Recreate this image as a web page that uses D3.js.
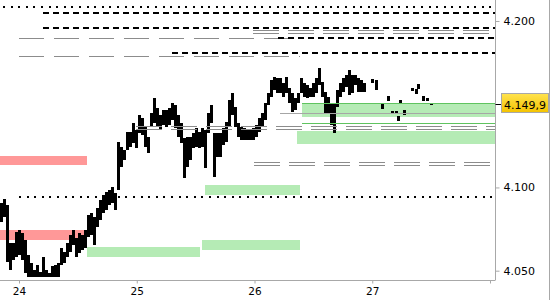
<!DOCTYPE html>
<html>
<head>
<meta charset="utf-8">
<script src="https://cdn.jsdelivr.net/npm/d3@7"></script>
<style>
  html, body { margin: 0; padding: 0; background: #fff; }
  svg { display: block; }
  text { font-family: "DejaVu Sans", Verdana, sans-serif; }
</style>
</head>
<body>
<div id="chart"></div>
<script>
// bars of the dense session: regular interval starting at barStart (days)
const barStart = 23.8514;
const barStep = 0.02548;
const barHigh = [4090.8, 4093.2, 4089.6, 4066.8, 4066.8, 4073.4, 4074.6, 4072.8, 4068.6, 4059.6,
  4054.8, 4050.6, 4053.6, 4049.4, 4058.4, 4050.6, 4048.8, 4053.0, 4053.6, 4054.8,
  4063.8, 4061.4, 4066.8, 4071.6, 4074.6, 4069.8, 4072.8, 4071.6, 4074.6, 4083.6,
  4084.8, 4082.4, 4087.8, 4092.6, 4095.6, 4097.4, 4098.6, 4100.4, 4096.8, 4127.4,
  4124.4, 4122.6, 4133.4, 4133.4, 4138.8, 4134.6, 4143.6, 4141.8, 4136.4, 4130.4,
  4144.8, 4153.8, 4147.8, 4143.6, 4146.6, 4146.6, 4147.8, 4150.8, 4149.6, 4143.6,
  4138.8, 4129.8, 4130.4, 4130.4, 4132.8, 4135.8, 4133.4, 4135.8, 4134.6, 4144.8,
  4149.6, 4132.8, 4132.8, 4132.8, 4135.8, 4139.4, 4152.6, 4156.8, 4148.4, 4138.8,
  4136.4, 4135.8, 4134.6, 4134.6, 4135.8, 4137.6, 4141.8, 4144.8, 4150.8, 4156.8,
  4164.6, 4166.4, 4165.8, 4165.8, 4162.8, 4166.4, 4159.8, 4156.8, 4153.8, 4156.8,
  4165.8, 4162.8, 4161.6, 4159.8, 4162.8, 4165.8, 4171.8, 4163.4, 4157.4, 4154.4,
  4150.8, 4150.8, 4158.6, 4162.8, 4165.8, 4167.6, 4170.6, 4167.6, 4167.6, 4165.8,
  4164.6, 4162.8];
const barLow = [4079.4, 4082.4, 4055.4, 4050.6, 4056.6, 4058.4, 4059.6, 4056.6, 4048.8, 4046.0,
  4046.0, 4046.0, 4046.0, 4046.0, 4046.0, 4046.0, 4046.0, 4046.0, 4046.0, 4046.4,
  4053.6, 4054.8, 4058.4, 4061.4, 4065.6, 4058.4, 4060.8, 4062.6, 4063.8, 4070.4,
  4071.6, 4065.6, 4076.4, 4080.6, 4084.8, 4086.6, 4089.6, 4090.8, 4086.6, 4098.6,
  4112.4, 4116.6, 4122.6, 4124.4, 4126.8, 4123.8, 4132.8, 4131.6, 4124.4, 4120.8,
  4136.4, 4138.8, 4136.4, 4134.6, 4137.6, 4136.4, 4137.6, 4140.6, 4135.8, 4130.4,
  4126.8, 4105.8, 4112.4, 4116.6, 4123.8, 4124.4, 4123.8, 4124.4, 4111.8, 4132.8,
  4138.8, 4106.4, 4118.4, 4118.4, 4125.6, 4127.4, 4136.4, 4143.6, 4136.4, 4130.4,
  4128.6, 4128.6, 4128.6, 4128.6, 4128.6, 4130.4, 4133.4, 4136.4, 4140.6, 4149.6,
  4154.4, 4158.6, 4156.8, 4156.8, 4154.4, 4156.8, 4150.8, 4145.4, 4146.6, 4150.8,
  4156.8, 4154.4, 4153.8, 4154.4, 4154.4, 4156.8, 4161.6, 4154.4, 4144.8, 4144.8,
  4137.6, 4132.8, 4148.4, 4154.4, 4157.4, 4160.4, 4155.6, 4156.8, 4161.6, 4157.4,
  4157.4, 4157.4];

// sparse late trades
const lateTime = [26.998, 27.032, 27.091, 27.134, 27.176, 27.202, 27.227, 27.244, 27.278, 27.346, 27.372, 27.397, 27.439, 27.473, 27.507];
const lateHigh = [4165.2, 4164.6, 4150.2, 4155.0, 4146.0, 4146.0, 4143.0, 4152.6, 4146.6, 4159.8, 4159.2, 4162.2, 4155.0, 4153.8, 4150.8];
const lateLow  = [4162.8, 4158.6, 4147.2, 4152.0, 4144.8, 4144.8, 4140.0, 4150.8, 4143.6, 4158.0, 4156.2, 4159.2, 4152.0, 4152.0, 4150.2];

// zones (to = null means up to the right edge)
const greenTop    = [4150.6, 4134.2, 4101.6, 4068.6, 4064.4];
const greenBottom = [4142.6, 4126.2, 4095.2, 4062.6, 4058.4];
const greenFrom   = [26.403, 26.361, 25.580, 25.554, 24.577];
const greenTo     = [null, null, 26.386, 26.386, 25.537];
const greenLines     = [4150.6, 4138.6];
const greenLinesFrom = [26.403, 26.403];
const redTop    = [4119.0, 4074.6];
const redBottom = [4113.6, 4068.6];
const redFrom   = [23.839, 23.839];
const redTo     = [24.577, 24.577];

// levels
const dottedLevels = [4208.4, 4094.0];
const dottedFrom   = [23.864, 24.000];
const blackDashLevels = [4204.6, 4195.6, 4189.6, 4180.6];
const blackDashFrom   = [24.204, 24.204, 26.200, 25.299];
const greyDashLevels = [4189.6, 4179.0];
const greyDashFrom   = [24.000, 24.000];
const greyDashTo     = [26.302, 26.386];
const greyDoubleLevels = [4193.6, 4135.8, 4114.4];
const greyDoubleFrom   = [25.987, 24.994, 25.996];
const greySolidLevels = [4144.6];
const greySolidFrom   = [26.217];

// 4.150 sits under the last-price box, so it is not shown
const yTicks = [4050, 4100, 4200];
const xTicks = [24, 25, 26, 27, 28];
const xLabels = ['24', '25', '26', '27', ''];
const lastPrice = 4149.9;

const width = 550, height = 300;
const plotRight = 495.5, plotBottom = 280;

const de = d3.formatLocale({ decimal: ',', thousands: '.', grouping: [3], currency: ['', '€'] });
const fmtTick = de.format(',.0f');
const fmtLast = de.format(',.1f');

const x = d3.scaleLinear().domain([24, 28]).range([19, 490]);
const y = d3.scaleLinear().domain([4044.4, 4212.6]).range([280, 0]);

const svg = d3.select('#chart').append('svg')
  .attr('width', width)
  .attr('height', height);

svg.append('defs').append('clipPath').attr('id', 'plotClip')
  .append('rect').attr('x', 0).attr('y', 0).attr('width', plotRight).attr('height', plotBottom);

const grad = svg.select('defs').append('linearGradient')
  .attr('id', 'gold').attr('x1', 0).attr('y1', 0).attr('x2', 0).attr('y2', 1);
grad.append('stop').attr('offset', '0%').attr('stop-color', '#ffe34f');
grad.append('stop').attr('offset', '100%').attr('stop-color', '#f4c300');

const plot = svg.append('g').attr('clip-path', 'url(#plotClip)');

const xEnd = t => t == null ? plotRight : x(t);

// zones
function zones(top, bottom, from, to, color) {
  plot.append('g').selectAll('rect').data(top).join('rect')
    .attr('x', (d, i) => x(from[i]))
    .attr('width', (d, i) => xEnd(to[i]) - x(from[i]))
    .attr('y', d => y(d))
    .attr('height', (d, i) => y(bottom[i]) - y(d))
    .attr('fill', color)
    .attr('shape-rendering', 'crispEdges');
}
zones(greenTop, greenBottom, greenFrom, greenTo, '#b5ebb5');
zones(redTop, redBottom, redFrom, redTo, '#ff9898');

// price bars
const bars = barHigh.map((h, i) => ({ t: barStart + i * barStep, high: h, low: barLow[i] }))
  .concat(lateTime.map((t, i) => ({ t: t, high: lateHigh[i], low: lateLow[i] })));

plot.append('g').selectAll('rect').data(bars).join('rect')
  .attr('x', d => Math.round(x(d.t) - 1.5))
  .attr('width', 3)
  .attr('y', d => y(d.high))
  .attr('height', d => Math.max(2, y(d.low) - y(d.high)))
  .attr('fill', '#000')
  .attr('shape-rendering', 'crispEdges');

// horizontal levels
function hLine(price, from, to, color, w, dash, dy) {
  const yy = Math.round(y(price) + (dy || 0)) + (w % 2 ? 0.5 : 0);
  plot.append('line')
    .attr('x1', x(from)).attr('x2', xEnd(to))
    .attr('y1', yy).attr('y2', yy)
    .attr('stroke', color)
    .attr('stroke-width', w)
    .attr('stroke-dasharray', dash)
    .attr('shape-rendering', 'crispEdges');
}

greyDashLevels.forEach((p, i) => hLine(p, greyDashFrom[i], greyDashTo[i], '#8c8c8c', 1, '25,10'));
greyDoubleLevels.forEach((p, i) => {
  hLine(p, greyDoubleFrom[i], null, '#8c8c8c', 1, '26,9', -1.6);
  hLine(p, greyDoubleFrom[i], null, '#8c8c8c', 1, '26,9', 1.6);
});
greySolidLevels.forEach((p, i) => hLine(p, greySolidFrom[i], null, '#a6a6a6', 1, null));
greenLines.forEach((p, i) => hLine(p, greenLinesFrom[i], null, '#5fc45f', 1, null));
blackDashLevels.forEach((p, i) => hLine(p, blackDashFrom[i], null, '#000', 2, '6,4'));
dottedLevels.forEach((p, i) => hLine(p, dottedFrom[i], null, '#000', 2, '2,5.6'));

// frame
svg.append('line')
  .attr('x1', plotRight).attr('x2', plotRight).attr('y1', 0).attr('y2', plotBottom)
  .attr('stroke', '#a8a8a8');
svg.append('line')
  .attr('x1', 0).attr('x2', plotRight).attr('y1', plotBottom + 0.5).attr('y2', plotBottom + 0.5)
  .attr('stroke', '#a8a8a8');
svg.append('line')
  .attr('x1', 549.5).attr('x2', 549.5).attr('y1', 0).attr('y2', height)
  .attr('stroke', '#a8a8a8');

// axes
const yAxis = svg.append('g')
  .attr('transform', `translate(${plotRight},0)`)
  .call(d3.axisRight(y).tickValues(yTicks).tickSize(4).tickPadding(4).tickFormat(fmtTick));
yAxis.select('.domain').remove();
yAxis.selectAll('line').attr('stroke', '#a8a8a8');
yAxis.selectAll('text').attr('fill', '#000').style('font-size', '11px')
  .style('font-family', '"DejaVu Sans", Verdana, sans-serif');

const xAxis = svg.append('g')
  .attr('transform', `translate(0,${plotBottom})`)
  .call(d3.axisBottom(x).tickValues(xTicks).tickSize(3.5).tickPadding(4)
    .tickFormat((d, i) => xLabels[i]));
xAxis.select('.domain').remove();
xAxis.selectAll('line').attr('stroke', '#a8a8a8');
xAxis.selectAll('text').attr('fill', '#000').style('font-size', '10.5px')
  .style('font-family', '"DejaVu Sans", Verdana, sans-serif');

// last price label
const yl = Math.round(y(lastPrice));
svg.append('line')
  .attr('x1', plotRight).attr('x2', 501).attr('y1', yl + 0.5).attr('y2', yl + 0.5)
  .attr('stroke', '#000');
svg.append('rect')
  .attr('x', 501.5).attr('y', yl - 10.5)
  .attr('width', 47).attr('height', 19)
  .attr('fill', 'url(#gold)')
  .attr('stroke', '#a8a8a8');
svg.append('text')
  .attr('x', 504).attr('y', yl + 4.5)
  .attr('fill', '#000')
  .style('font-size', '11px')
  .text(fmtLast(lastPrice));
</script>
</body>
</html>
